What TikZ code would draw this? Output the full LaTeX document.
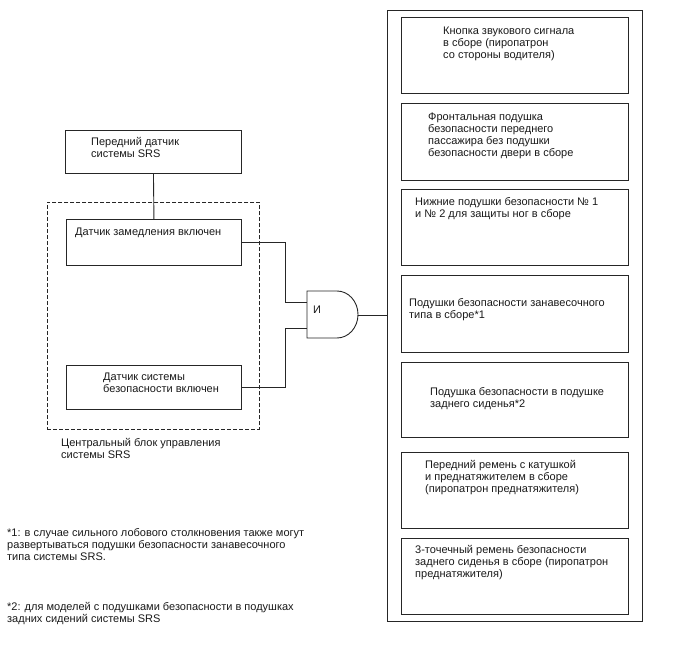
\documentclass[tikz,border=0pt]{standalone}
\usepackage{fontspec}
\setmainfont{Liberation Sans}
\begin{document}
\begin{tikzpicture}[x=1pt,y=-1pt,
  box/.style={draw=black!85,line width=0.9pt,inner sep=0pt,anchor=north west},
  txt/.style={anchor=north west,inner sep=0pt,align=left,font=\fontsize{11}{12}\selectfont,text=black!90},
  wire/.style={draw=black!85,line width=0.9pt}]
\useasboundingbox (0,0) rectangle (688,658);
% left side
\node[box,minimum width=176pt,minimum height=43pt] (front) at (65,130) {};
\node[txt] (frontT) at (91,137.5) {Передний датчик\\системы SRS};
\node[box,dashed,dash pattern=on 4pt off 2pt,minimum width=212pt,minimum height=227pt] (ecu) at (47,202) {};
\node[box,minimum width=175pt,minimum height=46pt] (decel) at (66,219) {};
\node[txt] (decelT) at (75,227.5) {Датчик замедления включен};
\node[box,minimum width=175pt,minimum height=44pt] (safety) at (66,365) {};
\node[txt] (safetyT) at (103,372.5) {Датчик системы\\безопасности включен};
\node[txt] (ecuT) at (61,438.5) {Центральный блок управления\\системы SRS};
% AND gate
\draw[wire] (307,291) -- (337,291) arc[start angle=-90,end angle=90,x radius=21,y radius=23.5] -- (307,338) -- cycle;
\coordinate (g1) at (307,302);
\coordinate (g2) at (307,328);
\coordinate (gout) at (358,315.5);
\node[txt] (andT) at (313,305.5) {И};
% right side
\node[box,minimum width=255pt,minimum height=611pt] (outs) at (387,10) {};
\node[box,minimum width=227pt,minimum height=76pt] (b1) at (401,17) {};
\node[txt] (b1T) at (443,26.5) {Кнопка звукового сигнала\\в сборе (пиропатрон\\со стороны водителя)};
\node[box,minimum width=227pt,minimum height=77pt] (b2) at (401,103) {};
\node[txt] (b2T) at (428,112.5) {Фронтальная подушка\\безопасности переднего\\пассажира без подушки\\безопасности двери в сборе};
\node[box,minimum width=227pt,minimum height=76pt] (b3) at (401,189) {};
\node[txt] (b3T) at (415,197.5) {Нижние подушки безопасности № 1\\и № 2 для защиты ног в сборе};
\node[box,minimum width=227pt,minimum height=77pt] (b4) at (401,275) {};
\node[txt] (b4T) at (409,298.5) {Подушки безопасности занавесочного\\типа в сборе*1};
\node[box,minimum width=227pt,minimum height=75pt] (b5) at (401,362) {};
\node[txt] (b5T) at (430,387.5) {Подушка безопасности в подушке\\заднего сиденья*2};
\node[box,minimum width=227pt,minimum height=76pt] (b6) at (401,452) {};
\node[txt] (b6T) at (425,460.5) {Передний ремень с катушкой\\и преднатяжителем в сборе\\(пиропатрон преднатяжителя)};
\node[box,minimum width=227pt,minimum height=76pt] (b7) at (401,538) {};
\node[txt] (b7T) at (415,545.5) {3-точечный ремень безопасности\\заднего сиденья в сборе (пиропатрон\\преднатяжителя)};
% footnotes
\node[txt] (fn1) at (7,528.5) {*1: в случае сильного лобового столкновения также могут\\развертываться подушки безопасности занавесочного\\типа системы SRS.};
\node[txt] (fn2) at (7,602.5) {*2: для моделей с подушками безопасности в подушках\\задних сидений системы SRS};
% wires
\draw[wire] (front.south) -- (decel.north);
\draw[wire] (decel.east) -- ++(44,0) |- (g1);
\draw[wire] (safety.east) -- ++(44,0) |- (g2);
\draw[wire] (gout) -- (gout -| outs.west);
\end{tikzpicture}
\end{document}
